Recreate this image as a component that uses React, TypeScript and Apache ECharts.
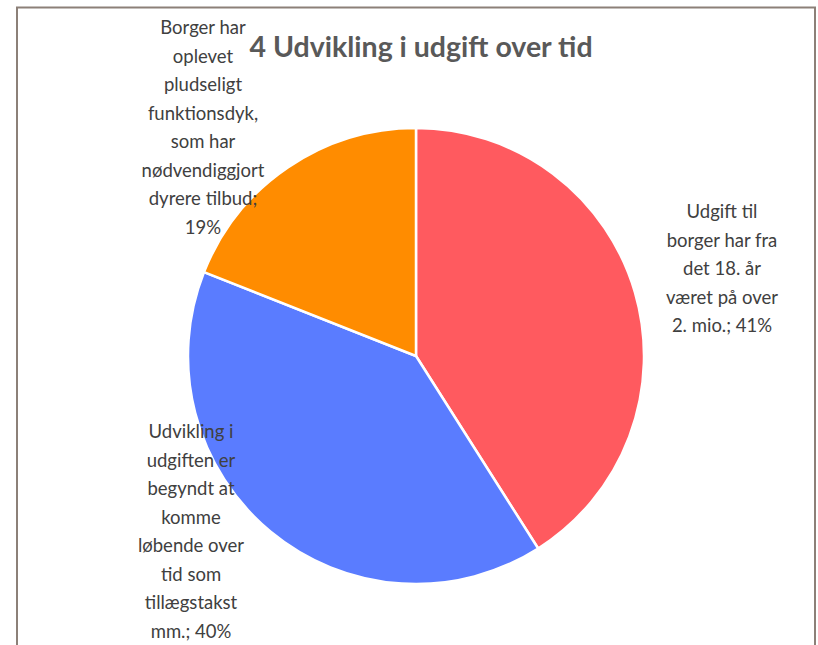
import React, { useEffect, useRef } from "react";
import * as echarts from "echarts";

const title = "4 Udvikling i udgift over tid";
const categories = [
  "Udgift til borger har fra det 18. år været på over 2. mio.",
  "Udvikling i udgiften er begyndt at komme løbende over tid som tillægstakst mm.",
  "Borger har oplevet pludseligt funktionsdyk, som har nødvendiggjort dyrere tilbud",
];
const values = [41, 40, 19];
const labelLines = [
  ["Udgift til", "borger har fra", "det 18. år", "været på over", "2. mio.; 41%"],
  ["Udvikling i", "udgiften er", "begyndt at", "komme", "løbende over", "tid som", "tillægstakst", "mm.; 40%"],
  ["Borger har", "oplevet", "pludseligt", "funktionsdyk,", "som har", "nødvendiggjort", "dyrere tilbud;", "19%"],
];
const colors = ["#FF5A5F", "#5A7CFF", "#FF8C00"];
const labelPos = [
  [722, 268],
  [191, 531],
  [203, 127],
];

export default function App() {
  const ref = useRef<HTMLDivElement>(null);
  useEffect(() => {
    if (!ref.current) return;
    const chart = echarts.init(ref.current, undefined, { renderer: "svg" });
    chart.setOption({
      animation: false,
      backgroundColor: "#ffffff",
      title: {
        text: title,
        left: 416,
        top: 26,
        textAlign: "center",
        textStyle: {
          fontFamily: "Lato",
          fontWeight: "bold",
          fontSize: 28.5,
          color: "#595959",
        },
      },
      graphic: [
        {
          type: "rect",
          shape: { x: 17, y: 7.5, width: 798, height: 700 },
          style: { fill: "none", stroke: "#8c8078", lineWidth: 2 },
          z: 0,
        },
      ],
      series: [
        {
          type: "pie",
          center: [416, 356],
          radius: 228,
          startAngle: 90,
          clockwise: true,
          z: 2,
          itemStyle: { borderColor: "#ffffff", borderWidth: 2.5 },
          labelLine: { show: false },
          label: {
            show: true,
            position: "outside",
            fontFamily: "Lato",
            fontSize: 18.5,
            lineHeight: 28.5,
            color: "#404040",
            align: "center",
            formatter: (p: any) => labelLines[p.dataIndex].join("\n"),
          },
          labelLayout: (p: any) => ({
            x: labelPos[p.dataIndex][0],
            y: labelPos[p.dataIndex][1],
            align: "center",
            verticalAlign: "middle",
          }),
          emphasis: { disabled: true },
          data: categories.map((c, i) => ({
            name: c,
            value: values[i],
            itemStyle: { color: colors[i] },
          })),
        },
      ],
    });
    return () => chart.dispose();
  }, []);
  return (
    <div
      ref={ref}
      style={{ position: "fixed", left: 0, top: 0, width: 818, height: 645 }}
    />
  );
}
